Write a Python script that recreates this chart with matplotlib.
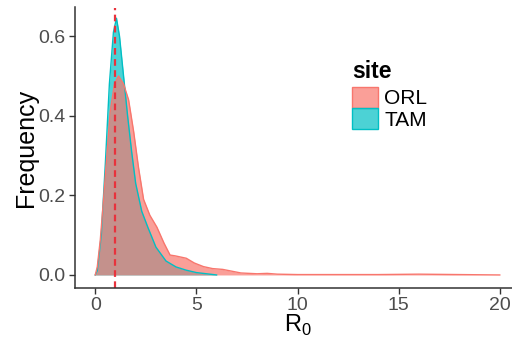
import matplotlib
matplotlib.use("Agg")
import matplotlib.pyplot as plt
from matplotlib.patches import Patch
from matplotlib.colors import to_rgba

plt.rcParams['font.family'] = ['Liberation Sans', 'DejaVu Sans']
plt.rcParams['mathtext.fontset'] = 'custom'
plt.rcParams['mathtext.rm'] = 'Liberation Sans'

# densités
x_tam = [0.0, 0.1, 0.3, 0.5, 0.7, 0.9, 1.05, 1.2, 1.4, 1.6, 1.8, 2.0, 2.3, 2.6,
         3.0, 3.5, 4.0, 4.5, 5.0, 5.5, 6.0]
y_tam = [0.0, 0.01, 0.10, 0.28, 0.48, 0.61, 0.645, 0.60, 0.50, 0.40, 0.31, 0.23,
         0.16, 0.12, 0.07, 0.035, 0.02, 0.012, 0.006, 0.003, 0.0]

x_orl = [0.0, 0.1, 0.25, 0.41, 0.74, 0.95, 1.15, 1.4, 1.65, 1.9, 2.14, 2.39, 2.7,
         3.05, 3.4, 3.7, 3.95, 4.5, 4.9, 5.35, 5.8, 6.3, 6.7, 7.2, 8.0, 8.5, 9.0,
         10.0, 12.0, 14.0, 16.0, 18.0, 20.0]
y_orl = [0.0, 0.02, 0.088, 0.19, 0.41, 0.48, 0.50, 0.48, 0.44, 0.36, 0.27, 0.19,
         0.15, 0.12, 0.08, 0.05, 0.048, 0.042, 0.03, 0.021, 0.016, 0.014, 0.01,
         0.005, 0.003, 0.004, 0.002, 0.001, 0.001, 0.001, 0.002, 0.001, 0.0]

r0_ref = 1.0
sites = ["ORL", "TAM"]
couleurs = {"ORL": "#F8766D", "TAM": "#00BFC4"}
alpha = 0.7

fig = plt.figure(figsize=(5.12, 3.38), dpi=100)
ax = fig.add_axes([75 / 512, 1 - 287.7 / 338, 445 / 512, 280.2 / 338])

ax.fill_between(x_tam, y_tam, color=couleurs["TAM"], alpha=alpha, lw=0)
ax.plot(x_tam, y_tam, color=couleurs["TAM"], lw=1)
ax.fill_between(x_orl, y_orl, color=couleurs["ORL"], alpha=alpha, lw=0)
ax.plot(x_orl, y_orl, color=couleurs["ORL"], lw=1)
ax.axvline(r0_ref, color="#E8323C", ls=(0, (3, 2)), lw=1.6)

ax.set_xlim(-1, 21)
ax.set_ylim(-0.032, 0.672)
ax.set_xticks([0, 5, 10, 15, 20])
ax.set_yticks([0.0, 0.2, 0.4, 0.6])
ax.set_yticklabels(["0.0", "0.2", "0.4", "0.6"])
ax.tick_params(labelsize=14, colors="#333333", labelcolor="#4D4D4D", length=4, width=1, pad=3)
for s in ["top", "right"]:
    ax.spines[s].set_visible(False)
for s in ["left", "bottom"]:
    ax.spines[s].set_color("#333333")
    ax.spines[s].set_linewidth(1.1)

ax.set_xlabel("R$_0$", fontsize=17, labelpad=-1)
ax.set_ylabel("Frequency", fontsize=18, labelpad=0)

poignees = [Patch(facecolor=to_rgba(couleurs[s], alpha), edgecolor=couleurs[s], lw=1)
            for s in sites]
leg = ax.legend(poignees, sites, title="site", loc="upper left",
                bbox_to_anchor=(0.59, 0.865), frameon=False, fontsize=15,
                title_fontproperties={"weight": "bold", "size": 16.5},
                handlelength=1.25, handleheight=1.15, labelspacing=0.0,
                handletextpad=0.3, borderpad=0.2)
leg._legend_box.align = "left"
leg._legend_box.sep = 3

fig.savefig("out.png", dpi=100)
